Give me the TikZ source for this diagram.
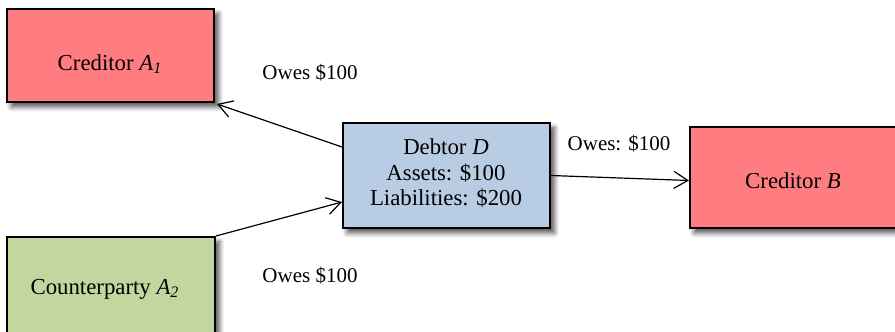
\documentclass[tikz,border=0pt]{standalone}
\usepackage{fontspec}
\setmainfont{Liberation Serif}
\usetikzlibrary{arrows.meta,shadows.blur}
\definecolor{credred}{RGB}{255,124,128}
\definecolor{debtblue}{RGB}{184,204,228}
\definecolor{cpgreen}{RGB}{196,214,160}
\tikzset{
  box/.style={draw=black, line width=1pt, inner sep=0pt,
    blur shadow={shadow xshift=2.2pt, shadow yshift=-2.4pt, shadow blur steps=6, shadow blur radius=2.5pt, shadow opacity=70}},
  txt/.style={font=\fontsize{10.5}{12.6}\selectfont, inner sep=0pt, align=center},
  boxtxt/.style={font=\fontsize{11.4}{12.6}\selectfont, inner sep=0pt, align=center},
  arr/.style={line width=0.6pt, -{Straight Barb[length=7pt,width=8.5pt,line width=0.6pt]}}
}
\begin{document}
\begin{tikzpicture}[x=0.5pt,y=-0.5pt]
\useasboundingbox (0,0) rectangle (895,332);
\clip (0,0) rectangle (895,332);
% boxes
\node[box, fill=credred, minimum width=103.5pt, minimum height=46.5pt] (a1) at (110.5,55.5) {};
\node[box, fill=cpgreen, minimum width=104pt, minimum height=51pt] (a2) at (111,288) {};
\node[box, fill=debtblue, minimum width=103.5pt, minimum height=52.5pt] (d) at (446.5,175.5) {};
\node[box, fill=credred, minimum width=106pt, minimum height=50.5pt] (b) at (796,177.5) {};
% texts
\node[boxtxt] (a1t) at (110,64) {Creditor \textit{A\textsubscript{1}}};
\node[boxtxt] (a2t) at (105,289) {Counterparty \textit{A\textsubscript{2}}};
\node[boxtxt] (dt) at (446,173) {Debtor \textit{D}\\Assets: \$100\\Liabilities: \$200};
\node[boxtxt] (bt) at (793,181) {Creditor \textit{B}};
% arrows
\draw[arr] ([yshift=14.25pt]d.west) -- ([xshift=1pt,yshift=-0.5pt]a1.south east);
\draw[arr] (a2.north east) -- ([yshift=-13.25pt]d.west);
\draw[arr] (d.east) -- ([yshift=-1.5pt]b.west);
% labels
\node[txt] (l1) at (310,73) {Owes \$100};
\node[txt] (l2) at (310,276) {Owes \$100};
\node[txt] (l3) at (619,144) {Owes: \$100};
\end{tikzpicture}
\end{document}
